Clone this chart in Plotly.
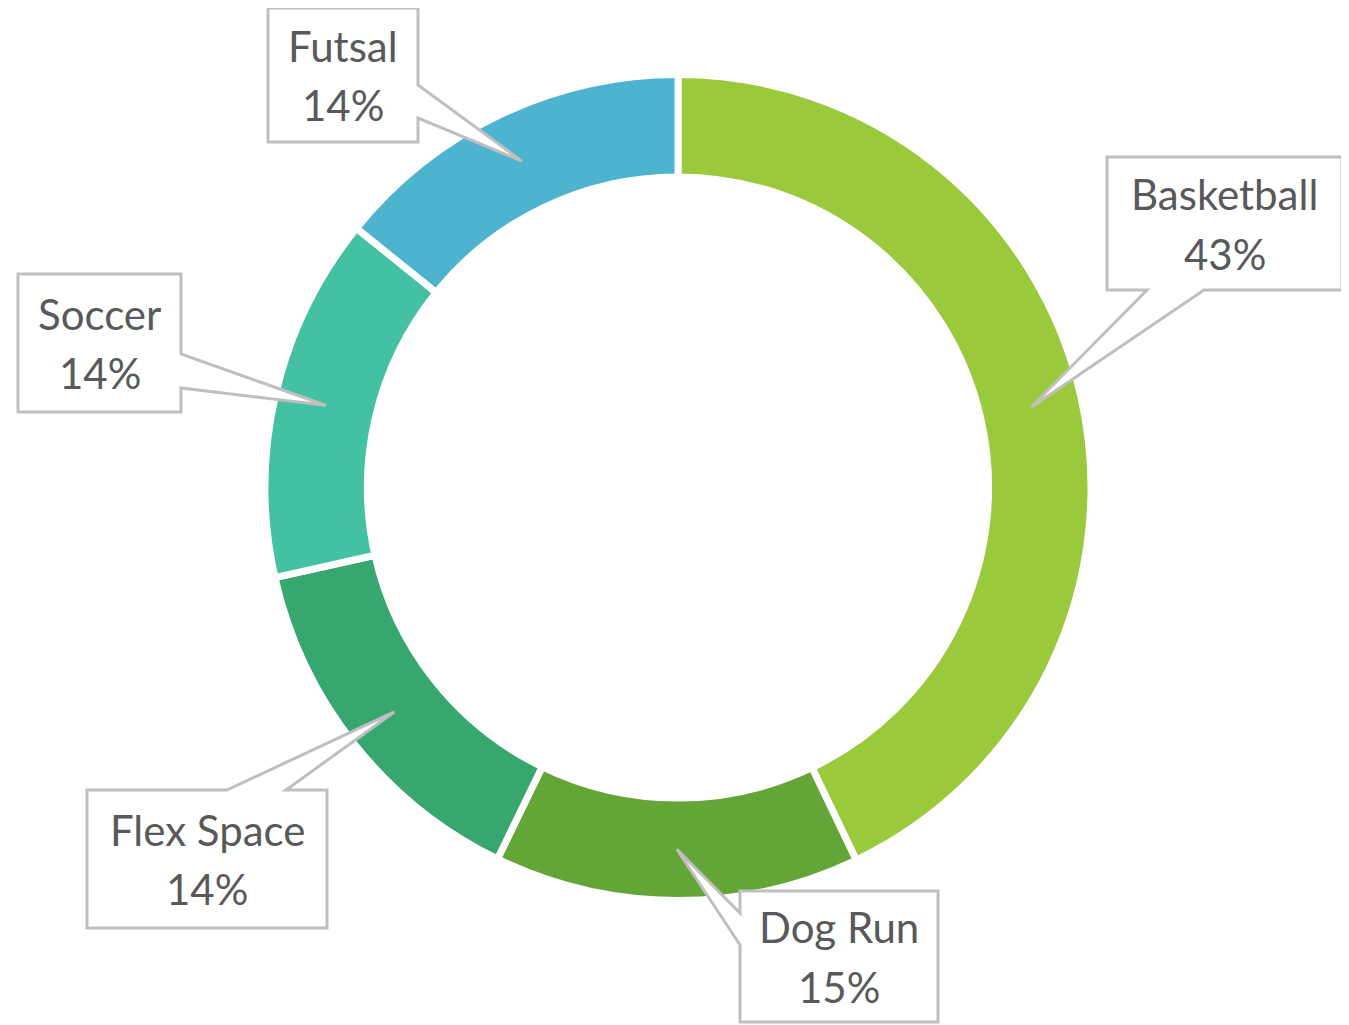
import math
import plotly.graph_objects as go

# ---------------- data ----------------
categories = ["Basketball", "Dog Run", "Flex Space", "Soccer", "Futsal"]
values = [42.9, 14.3, 14.3, 14.3, 14.2]          # slice sizes
pct_labels = ["43%", "15%", "14%", "14%", "14%"]  # label texts as shown
colors = ["#9ACA3C", "#63A537", "#37A76F", "#44C1A3", "#4EB3CF"]

# ---------------- layout constants (pixels, page coords) ----------------
W, H = 1349, 1025
OFF = 8              # page body margin compensation
CX, CY = 678, 487.5
R_OUT = 413          # pie radius incl. white separator stroke
HOLE = 0.752
GAP = 7              # white separator width

# callout boxes: (left, top, right, bottom), side of wedge, wedge base positions
callouts = {
    "Basketball": dict(box=(1107, 157, 1342, 290), side="bottom", base=(1147, 1204)),
    "Dog Run":    dict(box=(740, 891, 938, 1022),  side="left",   base=(913, 945)),
    "Flex Space": dict(box=(87, 790, 327, 928),    side="top",    base=(227, 286)),
    "Soccer":     dict(box=(18, 274, 181, 412),    side="right",  base=(354, 388)),
    "Futsal":     dict(box=(268, 8, 418, 142),     side="right",  base=(85, 118)),
}

FONT = "Lato, Calibri, 'Open Sans', sans-serif"
TEXT_COLOR = "#595959"
FONT_SIZE = 42


def px(x, y):
    return (x - OFF) / W, 1 - (y - OFF) / H


fig = go.Figure()
x0, y1 = px(CX - R_OUT, CY - R_OUT)
x1, y0 = px(CX + R_OUT, CY + R_OUT)
fig.add_trace(go.Pie(
    labels=categories,
    values=values,
    sort=False,
    direction="clockwise",
    rotation=0,
    hole=HOLE,
    marker=dict(colors=colors, line=dict(color="white", width=GAP)),
    textinfo="none",
    hoverinfo="skip",
    showlegend=False,
    domain=dict(x=[x0, x1], y=[y0, y1]),
))

# tip positions derived from data: mid-angle of slice, middle of ring
total = sum(values)
r_mid = (R_OUT + R_OUT * HOLE) / 2
cum = 0
shapes = []
annotations = []
for name, val, pct in zip(categories, values, pct_labels):
    mid = (cum + val / 2) / total
    cum += val
    ang = 2 * math.pi * mid
    tx = CX + r_mid * math.sin(ang)
    ty = CY - r_mid * math.cos(ang)

    c = callouts[name]
    L, T, R, B = c["box"]
    b0, b1 = c["base"]
    side = c["side"]
    if side == "right":
        pts = [(L, T), (R, T), (R, b0), (tx, ty), (R, b1), (R, B), (L, B)]
    elif side == "bottom":
        pts = [(L, T), (R, T), (R, B), (b1, B), (tx, ty), (b0, B), (L, B)]
    elif side == "left":
        pts = [(L, T), (R, T), (R, B), (L, B), (L, b1), (tx, ty), (L, b0)]
    else:  # top
        pts = [(L, T), (b0, T), (tx, ty), (b1, T), (R, T), (R, B), (L, B)]
    path = "M " + " L ".join("%.5f,%.5f" % px(x, y) for x, y in pts) + " Z"
    shapes.append(dict(
        type="path", path=path, xref="paper", yref="paper",
        fillcolor="white", line=dict(color="#BFBFBF", width=3), layer="above",
    ))

    bx = (L + R) / 2
    by = (T + B) / 2
    for txt, dy in ((name, -29.5), (pct, 30)):
        ax, ay = px(bx, by + dy)
        annotations.append(dict(
            x=ax, y=ay, xref="paper", yref="paper", text=txt, showarrow=False,
            xanchor="center", yanchor="middle",
            font=dict(family=FONT, size=FONT_SIZE, color=TEXT_COLOR),
        ))

fig.update_layout(
    width=W, height=H,
    margin=dict(l=0, r=0, t=0, b=0),
    paper_bgcolor="white",
    plot_bgcolor="white",
    shapes=shapes,
    annotations=annotations,
    showlegend=False,
)

fig.write_html("out.html")
